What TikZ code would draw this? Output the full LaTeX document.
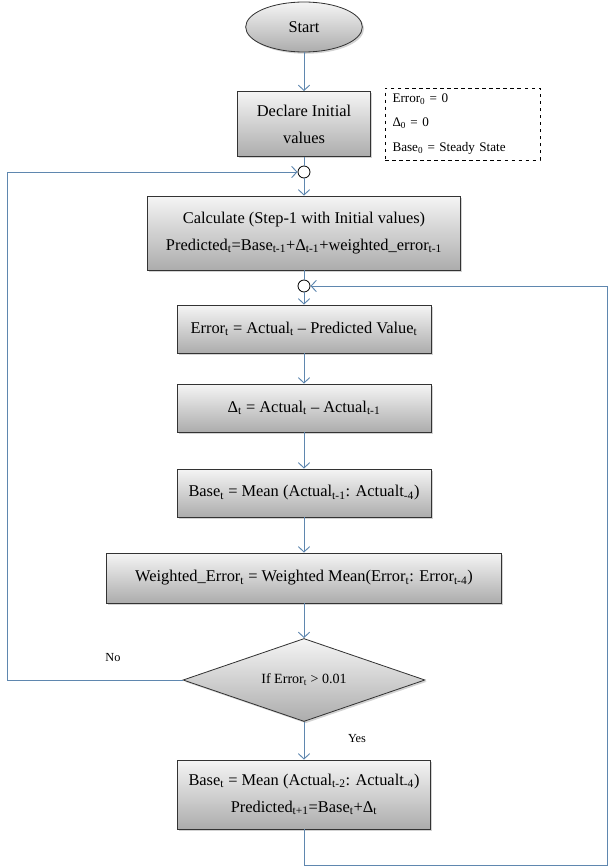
\documentclass[tikz,border=0pt]{standalone}
\usepackage{fontspec}
\setmainfont{Liberation Serif}
\definecolor{flowblue}{RGB}{95,135,175}
\usetikzlibrary{arrows.meta, positioning, shapes.geometric, shadows}

\begin{document}
\begin{tikzpicture}[
  box/.style={draw=black!80, line width=0.7pt, top color=gray!8, bottom color=gray!65,
    drop shadow={shadow xshift=1.5pt, shadow yshift=-1.5pt, opacity=0.35},
    align=center, font=\fontsize{14}{23}\selectfont},
  flow/.style={draw=flowblue, line width=0.8pt},
  tip/.style={flow, -{Straight Barb[length=1.6mm, width=3.4mm]}},
  joint/.style={circle, draw=black, line width=0.7pt, fill=white, minimum size=0.36cm, inner sep=0pt},
  small/.style={font=\fontsize{10.5}{12}\selectfont}
]
  \useasboundingbox (0,0) rectangle (18.3,-26.01);

  % Top: start and initial values
  \node[box, ellipse, minimum width=3.5cm, minimum height=1.5cm] (start) at (9.12,-0.81) {Start};
  \node[box, minimum width=4.0cm, minimum height=1.95cm] (init) at (9.12,-3.72) {Declare Initial\\values};
  \node[draw, dashed, line width=0.6pt, minimum width=4.65cm, minimum height=2.16cm, text width=4.2cm,
    align=left, font=\fontsize{11.2}{21}\selectfont] (given) at (13.875,-3.72) {
    Error\textsubscript{0} = 0\\
    Δ\textsubscript{0} = 0\\
    Base\textsubscript{0} = Steady State
  };

  % Main loop
  \node[joint] (c1) at (9.12,-5.16) {};
  \node[box, minimum width=9.39cm, minimum height=2.22cm] (calc) at (9.12,-6.99) {
    Calculate (Step-1 with Initial values)\\
    Predicted\textsubscript{t}=Base\textsubscript{t-1}+Δ\textsubscript{t-1}+weighted\_error\textsubscript{t-1}
  };
  \node[joint] (c2) at (9.12,-8.58) {};
  \node[box, minimum width=7.62cm, minimum height=1.44cm] (err) at (9.12,-9.87) {
    Error\textsubscript{t} = Actual\textsubscript{t} – Predicted Value\textsubscript{t}};
  \node[box, minimum width=7.62cm, minimum height=1.44cm] (delta) at (9.12,-12.24) {
    Δ\textsubscript{t} = Actual\textsubscript{t} – Actual\textsubscript{t-1}};
  \node[box, minimum width=7.62cm, minimum height=1.44cm] (base) at (9.12,-14.79) {
    Base\textsubscript{t} = Mean (Actual\textsubscript{t-1}: Actualt\textsubscript{-4})};
  \node[box, minimum width=11.85cm, minimum height=1.5cm] (wmean) at (9.12,-17.34) {
    Weighted\_Error\textsubscript{t} = Weighted Mean(Error\textsubscript{t}: Error\textsubscript{t-4})};

  % Decision
  \node[box, diamond, aspect=2.9, minimum width=7.26cm, minimum height=2.49cm,
    font=\fontsize{12}{14}\selectfont] (test) at (9.12,-20.4) {If Error\textsubscript{t} > 0.01};
  \node[small] (no) at (3.39,-19.74) {No};
  \node[small] (yes) at (10.71,-22.17) {Yes};

  \node[box, minimum width=7.59cm, minimum height=2.07cm] (last) at (9.12,-23.835) {
    Base\textsubscript{t} = Mean (Actual\textsubscript{t-2}: Actualt\textsubscript{-4})\\
    Predicted\textsubscript{t+1}=Base\textsubscript{t}+Δ\textsubscript{t}
  };

  % Connectors
  \draw[tip] (start) -- (init);
  \draw[flow] (init) -- (c1);
  \draw[tip] (c1) -- (calc);
  \draw[flow] (calc) -- (c2);
  \draw[tip] (c2) -- (err);
  \draw[tip] (err) -- (delta);
  \draw[tip] (delta) -- (base);
  \draw[tip] (base) -- (wmean);
  \draw[tip] (wmean) -- (test);
  \draw[tip] (test) -- (last);

  % Feedback lines
  \coordinate (leftx) at (0.21,-20.4);
  \coordinate (rightx) at (18.21,-25.95);
  \draw[tip] (test.west) -- (leftx) |- (c1.west);
  \draw[tip] (last.south) |- (rightx) |- (c2.east);
\end{tikzpicture}
\end{document}
